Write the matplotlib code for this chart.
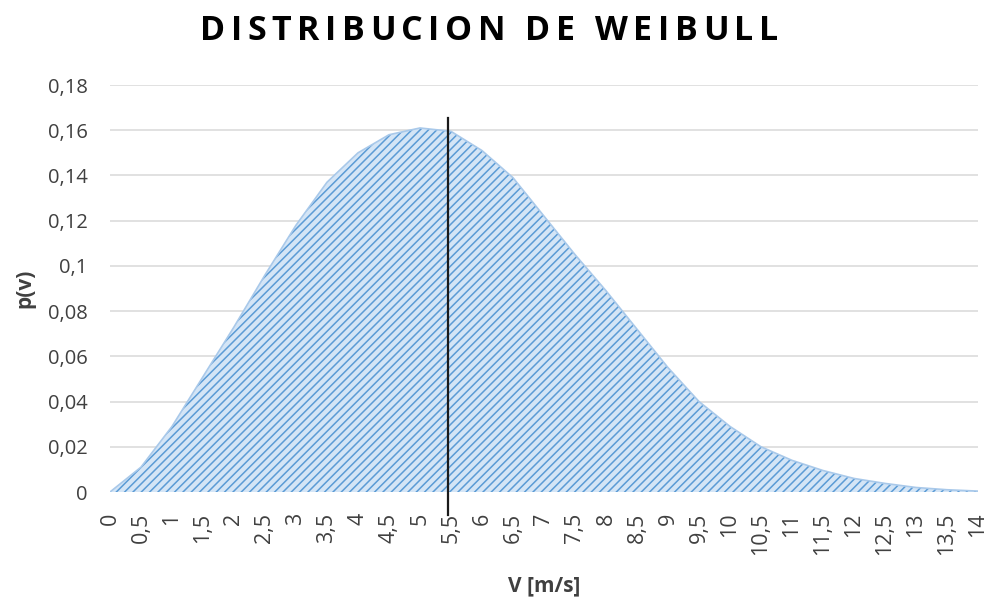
import numpy as np
import matplotlib.pyplot as plt

# velocidades (m/s) y densidad de probabilidad
v = [0, 0.5, 1, 1.5, 2, 2.5, 3, 3.5, 4, 4.5, 5, 5.5, 6, 6.5, 7,
     7.5, 8, 8.5, 9, 9.5, 10, 10.5, 11, 11.5, 12, 12.5, 13, 13.5, 14]
p = [0, 0.011, 0.029, 0.051, 0.073, 0.096, 0.118, 0.137, 0.150, 0.158, 0.161,
     0.1595, 0.151, 0.139, 0.122, 0.105, 0.089, 0.072, 0.055, 0.040, 0.029,
     0.020, 0.014, 0.0095, 0.006, 0.0038, 0.002, 0.001, 0.0004]
x_labels = ["0", "0,5", "1", "1,5", "2", "2,5", "3", "3,5", "4", "4,5", "5", "5,5",
            "6", "6,5", "7", "7,5", "8", "8,5", "9", "9,5", "10", "10,5", "11",
            "11,5", "12", "12,5", "13", "13,5", "14"]
y_ticks = [0, 0.02, 0.04, 0.06, 0.08, 0.1, 0.12, 0.14, 0.16, 0.18]
y_labels = ["0", "0,02", "0,04", "0,06", "0,08", "0,1", "0,12", "0,14", "0,16", "0,18"]
v_line = 5.45
line_span = [-0.0102, 0.1655]
title = "DISTRIBUCION DE WEIBULL"

plt.rcParams['font.family'] = ['Open Sans', 'DejaVu Sans']
plt.rcParams['hatch.linewidth'] = 1.1
plt.rcParams['hatch.color'] = '#5b9bd5'

W, H = 990, 598
fig = plt.figure(figsize=(W/100, H/100), dpi=100)
ax = fig.add_axes([110/W, 1 - 492/H, 868/W, 407/H])

ax.fill_between(v, p, 0, facecolor='#d4e5f6', edgecolor='#5b9bd5',
                hatch='////', linewidth=0, zorder=2)
ax.plot(v, p, color='#a9c9ea', lw=1.2, zorder=3)
ax.plot([v_line, v_line], line_span, color='#1a1a1a', lw=1.6,
        clip_on=False, zorder=4)

ax.set_xlim(0, 14)
ax.set_ylim(0, 0.18)
ax.set_yticks(y_ticks)
ax.set_yticklabels(y_labels, fontsize=14.5, color='#404040')
ax.set_xticks(v)
ax.set_xticklabels(x_labels, rotation=90, fontsize=15.5, color='#404040')
ax.tick_params(axis='y', length=0, pad=16)
ax.tick_params(axis='x', length=0, pad=15)
ax.grid(axis='y', color='#d9d9d9', lw=1.1, zorder=0)
ax.set_axisbelow(True)
for s in ax.spines.values():
    s.set_visible(False)
ax.axhline(0, color='#d9d9d9', lw=1.1, zorder=1)

fig.text(544/W, 1 - 586/H, "V [m/s]", ha='center', va='center',
         fontsize=15, fontweight='bold', color='#404040')
fig.text(25/W, 1 - 288/H, "p(v)", ha='center', va='center', rotation=90,
         fontsize=15, fontweight='bold', color='#404040')

# titulo con espaciado entre letras
renderer = fig.canvas.get_renderer()
chars = []
for ch in title:
    t = fig.text(0, 1 - 31/H, ch, ha='left', va='center', fontsize=24.5,
                 fontweight='bold', color='black')
    chars.append(t)
widths = [t.get_window_extent(renderer).width if ch != " " else 9
          for t, ch in zip(chars, title)]
gap = (578 - sum(widths)) / (len(title) - 1)
xpos = 200
for t, w in zip(chars, widths):
    t.set_x(xpos / W)
    xpos += w + gap

fig.savefig("out.png", dpi=100)
